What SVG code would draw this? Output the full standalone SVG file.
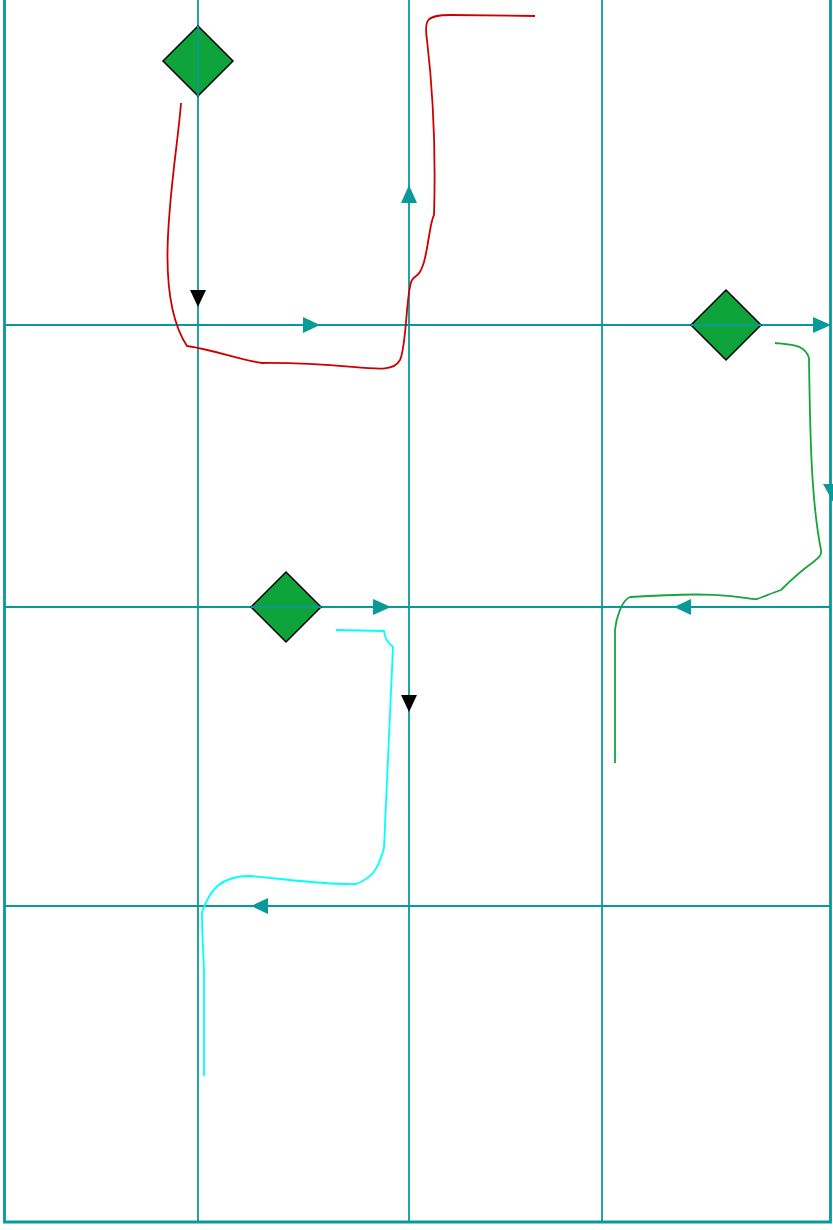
<svg xmlns="http://www.w3.org/2000/svg" width="833" height="1230" viewBox="0 0 833 1230">
<defs>
<style>
.grid{stroke:#089a98;stroke-width:1.8;fill:none}
.dash{stroke:#089a98;stroke-width:1.8;fill:none;stroke-dasharray:10 6;opacity:0.85}
.dia{fill:#0ea43b;stroke:#000;stroke-width:1.5}
.ah{fill:#089a98}
.ahb{fill:#000}
.curve{fill:none;stroke-width:1.8;stroke-linejoin:round;stroke-linecap:butt}
</style>
</defs>
<rect x="0" y="0" width="833" height="1230" fill="#fff"/>
<g id="frame">
<path d="M4.5,0 V1222 H830.5 V0" fill="none" stroke="#089a98" stroke-width="2.8"/>
</g>
<g id="connectors">
<line class="grid" x1="198" y1="0" x2="198" y2="1222"/>
<line class="grid" x1="409" y1="0" x2="409" y2="1222"/>
<line class="grid" x1="602" y1="0" x2="602" y2="1222"/>
<line class="grid" x1="4" y1="325" x2="831" y2="325"/>
<line class="grid" x1="4" y1="607" x2="831" y2="607"/>
<line class="grid" x1="4" y1="906" x2="831" y2="906"/>
<line class="dash" x1="235" y1="325" x2="303" y2="325"/>
<line class="dash" x1="355" y1="607" x2="373" y2="607"/>
<line class="dash" x1="691" y1="607" x2="777" y2="607"/>
<line class="dash" x1="268" y1="906" x2="375" y2="906"/>
<polygon class="ahb" points="190,290 206,290 198,307"/>
<polygon class="ah" points="303,317 303,333 320,325"/>
<polygon class="ah" points="401,203 417,203 409,185"/>
<polygon class="ah" points="813,317 813,333 831,325"/>
<polygon class="ah" points="823,484 833,484 833,502"/>
<polygon class="ah" points="373,599 373,615 391,607"/>
<polygon class="ahb" points="401,695 417,695 409,712"/>
<polygon class="ah" points="691,599 691,615 674,607"/>
<polygon class="ah" points="268,898 268,914 251,906"/>
<path class="curve" stroke="#cc0000" d="M181,103 C176,170 150,290 187,346 C215,350 240,360 262,363 C360,362 390,378 400,360 C407,345 406,290 412,280 C416,274 419,278 424,262 C429,243 430,222 434,215 C436,150 434,100 427,40 C424,20 426,15 450,15 L535,16"/>
<path class="curve" stroke="#16a53c" d="M775,343 C795,345 805,345 809,358 C810,430 811,500 821,550 C822,556 818,558 812,563 C798,573 790,581 781,590 C772,593 763,597 757,599 C745,600 738,590 630,597 C622,600 616,618 615,630 L615,763"/>
<path class="curve" stroke="#00ffff" d="M336,630 L384,631 C385,640 388,642 393,647 L384,848 C378,870 372,878 356,884 C320,885 280,878 250,876 C220,876 210,890 202,912 C202,940 204,960 204,975 L204,1076"/>
</g>
<g id="node1"><polygon class="dia" points="198,26 233,61 198,96 163,61"/></g>
<g id="node2"><polygon class="dia" points="726,290 761,325 726,360 691,325"/></g>
<g id="node3"><polygon class="dia" points="286,572 321,607 286,642 251,607"/></g>
<g id="gridover">
<line class="grid" x1="198" y1="26" x2="198" y2="96"/>
<line class="grid" x1="691" y1="325" x2="761" y2="325"/>
<line class="grid" x1="251" y1="607" x2="321" y2="607"/>
</g>
</svg>
